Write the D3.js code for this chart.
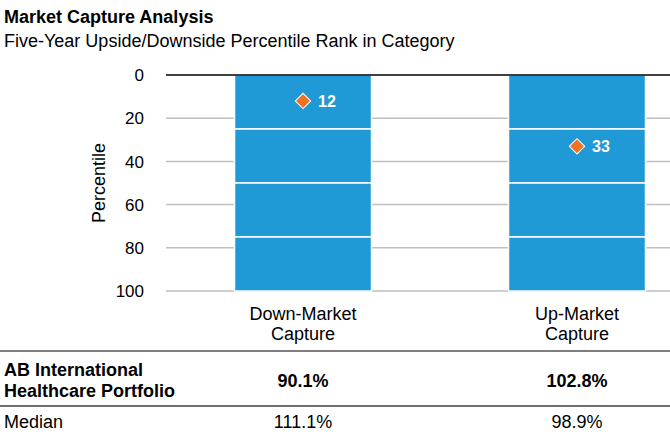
<!DOCTYPE html>
<html>
<head>
<meta charset="utf-8">
<script src="https://cdn.jsdelivr.net/npm/d3@7"></script>
<style>
  html, body { margin: 0; padding: 0; background: #fff; }
  svg { display: block; font-family: "Liberation Sans", Arial, sans-serif; }
</style>
</head>
<body>
<svg id="chart" width="670" height="442"></svg>
<script>
// ---- data ----
const categories = ["Down-Market Capture", "Up-Market Capture"];
const categoryLines = [["Down-Market", "Capture"], ["Up-Market", "Capture"]];
const percentileRanks = [12, 33];
const quartileBreaks = [0, 25, 50, 75, 100];
const yTicks = [0, 20, 40, 60, 80, 100];
const fundName = ["AB International", "Healthcare Portfolio"];
const fundValues = ["90.1%", "102.8%"];
const medianLabel = "Median";
const medianValues = ["111.1%", "98.9%"];
const titleText = "Market Capture Analysis";
const subtitleText = "Five-Year Upside/Downside Percentile Rank in Category";
const yAxisLabel = "Percentile";

// ---- layout ----
const svg = d3.select("#chart");
const barColor = "#1f9ad6";
const markerColor = "#f07323";
const gridColor = "#bfbfbf";

const y = d3.scaleLinear().domain([0, 100]).range([75, 291]);
const x = d3.scaleBand().domain(categories).range([166, 714]).paddingInner(0.5).paddingOuter(0.25);

// titles
svg.append("text").attr("x", 4).attr("y", 23).attr("font-size", 18).attr("font-weight", "bold").attr("fill", "#000").text(titleText);
svg.append("text").attr("x", 4).attr("y", 47).attr("font-size", 18).attr("fill", "#000").text(subtitleText);

// grid lines
svg.append("g").selectAll("line").data(yTicks.filter(d => d !== 0)).join("line")
  .attr("x1", 166).attr("x2", 670)
  .attr("y1", d => y(d)).attr("y2", d => y(d))
  .attr("stroke", gridColor).attr("stroke-width", 1.5);

// y tick labels
svg.append("g").selectAll("text").data(yTicks).join("text")
  .attr("x", 144).attr("y", d => y(d)).attr("dy", "0.36em")
  .attr("text-anchor", "end").attr("font-size", 17).attr("fill", "#000")
  .text(d => d);

// y axis title
svg.append("text").attr("transform", `translate(105,${y(50)}) rotate(-90)`)
  .attr("text-anchor", "middle").attr("font-size", 18).attr("fill", "#000").text(yAxisLabel);

// bars (quartile segments)
const segs = [];
categories.forEach(c => {
  for (let i = 0; i < quartileBreaks.length - 1; i++) segs.push({ c, a: quartileBreaks[i], b: quartileBreaks[i + 1] });
});
svg.append("g").selectAll("rect").data(segs).join("rect")
  .attr("x", d => x(d.c)).attr("width", x.bandwidth())
  .attr("y", d => y(d.a)).attr("height", d => y(d.b) - y(d.a))
  .attr("fill", barColor).attr("stroke", "#fff").attr("stroke-width", 1.5);

// zero line
svg.append("line").attr("x1", 166).attr("x2", 670).attr("y1", y(0)).attr("y2", y(0))
  .attr("stroke", "#000").attr("stroke-width", 1.5);

// markers
const sym = d3.symbol().type(d3.symbolSquare).size(118);
const mk = svg.append("g").selectAll("g").data(categories).join("g");
mk.append("path")
  .attr("d", sym)
  .attr("transform", (c, i) => `translate(${x(c) + x.bandwidth() / 2},${y(percentileRanks[i])}) rotate(45)`)
  .attr("fill", markerColor).attr("stroke", "#fff").attr("stroke-width", 1);
mk.append("text")
  .attr("x", c => x(c) + x.bandwidth() / 2 + 15)
  .attr("y", (c, i) => y(percentileRanks[i]) + 6)
  .attr("font-size", 16).attr("font-weight", "bold").attr("fill", "#fff")
  .text((c, i) => percentileRanks[i]);

// category labels
const cl = svg.append("g").selectAll("text").data(categories).join("text")
  .attr("x", c => x(c) + x.bandwidth() / 2).attr("y", 320)
  .attr("text-anchor", "middle").attr("font-size", 18).attr("fill", "#000");
cl.selectAll("tspan").data((c, i) => categoryLines[i]).join("tspan")
  .attr("x", function () { return d3.select(this.parentNode).attr("x"); })
  .attr("dy", (d, j) => j === 0 ? 0 : 20)
  .text(d => d);

// table lines
svg.append("line").attr("x1", 0).attr("x2", 670).attr("y1", 351).attr("y2", 351).attr("stroke", "#7f7f7f").attr("stroke-width", 2);
svg.append("line").attr("x1", 0).attr("x2", 670).attr("y1", 406).attr("y2", 406).attr("stroke", "#404040").attr("stroke-width", 1.5);

// fund row
svg.append("text").attr("x", 4).attr("y", 376).attr("font-size", 18).attr("font-weight", "bold").attr("fill", "#000")
  .selectAll("tspan").data(fundName).join("tspan").attr("x", 4).attr("dy", (d, j) => j === 0 ? 0 : 21).text(d => d);
svg.append("g").selectAll("text").data(categories).join("text")
  .attr("x", c => x(c) + x.bandwidth() / 2).attr("y", 387)
  .attr("text-anchor", "middle").attr("font-size", 18).attr("font-weight", "bold").attr("fill", "#000")
  .text((c, i) => fundValues[i]);

// median row
svg.append("text").attr("x", 4).attr("y", 428).attr("font-size", 18).attr("fill", "#000").text(medianLabel);
svg.append("g").selectAll("text").data(categories).join("text")
  .attr("x", c => x(c) + x.bandwidth() / 2).attr("y", 428)
  .attr("text-anchor", "middle").attr("font-size", 18).attr("fill", "#000")
  .text((c, i) => medianValues[i]);
</script>
</body>
</html>
